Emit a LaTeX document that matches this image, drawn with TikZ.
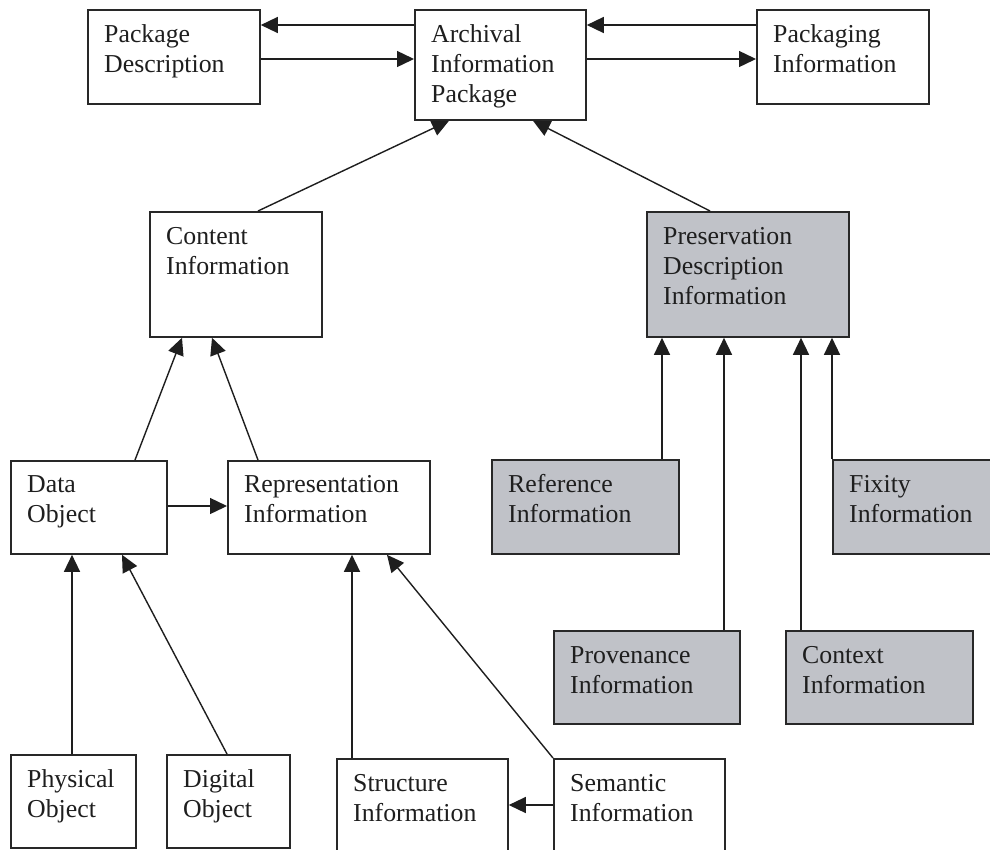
\documentclass[tikz,border=0pt]{standalone}
\usepackage{fontspec}
\setmainfont{Liberation Serif}
\usetikzlibrary{arrows.meta}
\definecolor{boxgray}{RGB}{192,194,200}
\definecolor{edge}{RGB}{40,40,40}
\definecolor{ink}{RGB}{30,30,30}
\tikzset{
  x=1pt, y=-1pt,
  box/.style={draw=edge, line width=1.8pt, fill=white, inner sep=0pt, anchor=north west},
  shaded/.style={box, fill=boxgray},
  lbl/.style={inner sep=0pt, anchor=base west, text=ink, font=\fontsize{25.8}{30}\selectfont},
  conn/.style={draw=ink, line width=1.4pt, -{Triangle[length=17pt,width=16pt]}}
}
\newcommand{\boxtext}[1]{\parbox[t]{220pt}{\raggedright #1}}
\begin{document}
\begin{tikzpicture}
\clip (0,0) rectangle (990,849);
\fill[white] (0,0) rectangle (990,849);
% boxes: (left,top), width, height
\node[box, minimum width=172pt, minimum height=94pt] (PD) at (87,9) {};
\node[box, minimum width=171pt, minimum height=110pt] (AIP) at (414,9) {};
\node[box, minimum width=172pt, minimum height=94pt] (PI) at (756,9) {};
\node[box, minimum width=172pt, minimum height=125pt] (CI) at (149,211) {};
\node[shaded, minimum width=202pt, minimum height=125pt] (PDI) at (646,211) {};
\node[box, minimum width=156pt, minimum height=93pt] (DO) at (10,460) {};
\node[box, minimum width=202pt, minimum height=93pt] (RI) at (227,460) {};
\node[shaded, minimum width=187pt, minimum height=94pt] (REF) at (491,459) {};
\node[shaded, minimum width=180pt, minimum height=94pt] (FIX) at (832,459) {};
\node[shaded, minimum width=186pt, minimum height=93pt] (PROV) at (553,630) {};
\node[shaded, minimum width=187pt, minimum height=93pt] (CTX) at (785,630) {};
\node[box, minimum width=125pt, minimum height=93pt] (PHYS) at (10,754) {};
\node[box, minimum width=123pt, minimum height=93pt] (DIG) at (166,754) {};
\node[box, minimum width=171pt, minimum height=130pt] (STR) at (336,758) {};
\node[box, minimum width=171pt, minimum height=130pt] (SEM) at (553,758) {};
% labels
\node[lbl] (tPD) at ([shift={(17,33)}]PD.north west) {\boxtext{Package\\Description}};
\node[lbl] (tAIP) at ([shift={(17,33)}]AIP.north west) {\boxtext{Archival\\Information\\Package}};
\node[lbl] (tPI) at ([shift={(17,33)}]PI.north west) {\boxtext{Packaging\\Information}};
\node[lbl] (tCI) at ([shift={(17,33)}]CI.north west) {\boxtext{Content\\Information}};
\node[lbl] (tPDI) at ([shift={(17,33)}]PDI.north west) {\boxtext{Preservation\\Description\\Information}};
\node[lbl] (tDO) at ([shift={(17,32)}]DO.north west) {\boxtext{Data\\Object}};
\node[lbl] (tRI) at ([shift={(17,32)}]RI.north west) {\boxtext{Representation\\Information}};
\node[lbl] (tREF) at ([shift={(17,33)}]REF.north west) {\boxtext{Reference\\Information}};
\node[lbl] (tFIX) at ([shift={(17,33)}]FIX.north west) {\boxtext{Fixity\\Information}};
\node[lbl] (tPROV) at ([shift={(17,33)}]PROV.north west) {\boxtext{Provenance\\Information}};
\node[lbl] (tCTX) at ([shift={(17,33)}]CTX.north west) {\boxtext{Context\\Information}};
\node[lbl] (tPHYS) at ([shift={(17,33)}]PHYS.north west) {\boxtext{Physical\\Object}};
\node[lbl] (tDIG) at ([shift={(17,33)}]DIG.north west) {\boxtext{Digital\\Object}};
\node[lbl] (tSTR) at ([shift={(17,33)}]STR.north west) {\boxtext{Structure\\Information}};
\node[lbl] (tSEM) at ([shift={(17,33)}]SEM.north west) {\boxtext{Semantic\\Information}};
% connectors, top row
\draw[conn] (AIP.west |- 0,25) -- (PD.east |- 0,25);
\draw[conn] (PD.east |- 0,59) -- (AIP.west |- 0,59);
\draw[conn] (PI.west |- 0,25) -- (AIP.east |- 0,25);
\draw[conn] (AIP.east |- 0,59) -- (PI.west |- 0,59);
% to AIP
\draw[conn] (258,0 |- CI.north) -- (449,0 |- AIP.south);
\draw[conn] (710,0 |- PDI.north) -- (533,0 |- AIP.south);
% to CI
\draw[conn] (135,0 |- DO.north) -- (182,0 |- CI.south);
\draw[conn] (258,0 |- RI.north) -- (212,0 |- CI.south);
\draw[conn] (DO.east |- 0,506) -- (RI.west |- 0,506);
% to PDI
\draw[conn] (662,0 |- REF.north) -- (662,0 |- PDI.south);
\draw[conn] (724,0 |- PROV.north) -- (724,0 |- PDI.south);
\draw[conn] (801,0 |- CTX.north) -- (801,0 |- PDI.south);
\draw[conn] (FIX.north west) -- (FIX.north west |- PDI.south);
% to DO
\draw[conn] (72,0 |- PHYS.north) -- (72,0 |- DO.south);
\draw[conn] (227,0 |- DIG.north) -- (122,0 |- DO.south);
% to RI
\draw[conn] (352,0 |- STR.north) -- (352,0 |- RI.south);
\draw[conn] (SEM.north west) -- (387,0 |- RI.south);
\draw[conn] (SEM.west |- 0,805) -- (STR.east |- 0,805);
\end{tikzpicture}
\end{document}
